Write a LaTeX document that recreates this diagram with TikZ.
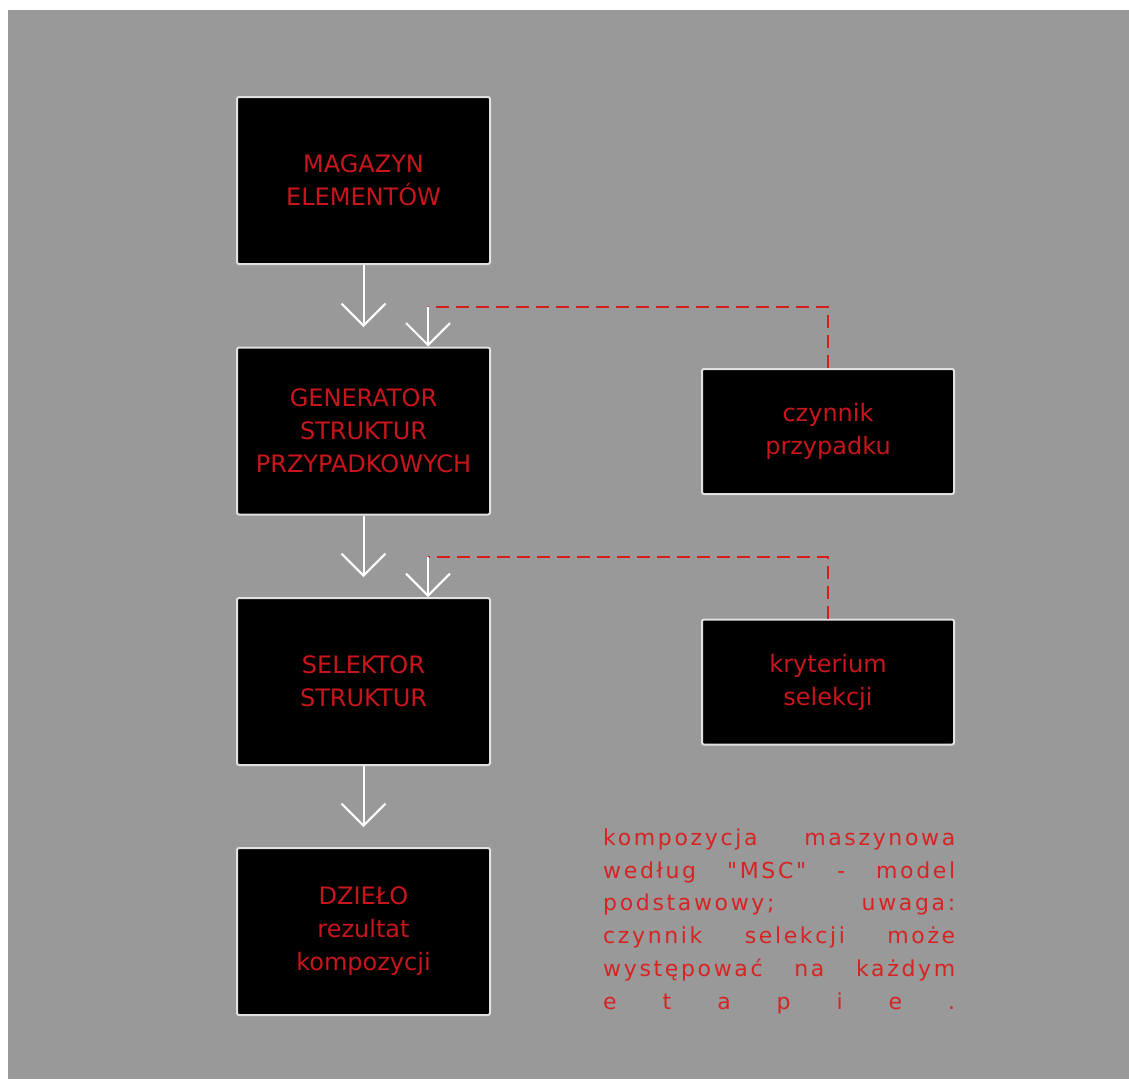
\documentclass[tikz,border=0pt]{standalone}
\usepackage{fontspec}
\setmainfont{DejaVu Sans}
\newfontfamily\parafont[LetterSpace=12]{DejaVu Sans}
\usetikzlibrary{arrows.meta}
\definecolor{bg}{RGB}{153,153,153}
\definecolor{txtred}{RGB}{200,22,28}
\definecolor{parared}{RGB}{214,36,36}
\definecolor{dashred}{RGB}{212,30,30}
\definecolor{edge}{RGB}{225,225,225}
\begin{document}
\begin{tikzpicture}[x=1pt,y=-1pt,
  box/.style={draw=edge, line width=2pt, fill=black, rounded corners=2pt,
    minimum width=253pt, text=txtred, align=center,
    font=\fontsize{24}{33}\selectfont, inner sep=0pt},
  mainbox/.style={box, minimum height=167pt},
  sidebox/.style={box, minimum width=252pt, minimum height=125pt},
  flow/.style={draw=white, line width=2pt, -{Straight Barb[length=22pt,width=44pt]}},
  feed/.style={draw=dashred, line width=2pt, dash pattern=on 13pt off 7pt},
  para/.style={anchor=base west, inner sep=0pt, text=parared,
    font=\parafont\fontsize{22}{33}\selectfont}]
\useasboundingbox (0,0) rectangle (1129,1079);
\fill[white] (0,0) rectangle (1129,1079);
\fill[bg] (8,10) rectangle (1129,1079);

\node[mainbox] (mag) at (363.5,180.5) {MAGAZYN\\ELEMENTÓW};
\node[mainbox] (gen) at (363.5,431) {GENERATOR\\STRUKTUR\\PRZYPADKOWYCH};
\node[mainbox] (sel) at (363.5,681.5) {SELEKTOR\\STRUKTUR};
\node[mainbox] (dz) at (363.5,931.5) {DZIEŁO\\rezultat\\kompozycji};
\node[sidebox] (czy) at (828,431.5) {czynnik\\przypadku};
\node[sidebox] (kry) at (828,682) {kryterium\\selekcji};

\coordinate (t1) at (363.5,327);
\coordinate (t2) at (363.5,577);
\coordinate (t3) at (363.5,827);
\coordinate (j1) at (428,307);
\coordinate (j2) at (428,557);

\draw[flow] (mag.south) -- (t1);
\draw[flow] (gen.south) -- (t2);
\draw[flow] (sel.south) -- (t3);

\draw[feed] (czy.north) |- (j1);
\draw[flow] (j1) -- (j1 |- gen.north);
\draw[feed] (kry.north) |- (j2);
\draw[flow] (j2) -- (j2 |- sel.north);

\node[para] (p1) at (603,845) {\makebox[352pt][s]{kompozycja maszynowa}};
\node[para] (p2) at (603,878) {\makebox[352pt][s]{według "MSC" - model}};
\node[para] (p3) at (603,910) {\makebox[352pt][s]{podstawowy; uwaga:}};
\node[para] (p4) at (603,943) {\makebox[352pt][s]{czynnik selekcji może}};
\node[para] (p5) at (603,976) {\makebox[352pt][s]{występować na każdym}};
\node[para] (p6) at (603,1009) {\makebox[352pt][s]{e t a p i e .}};
\end{tikzpicture}
\end{document}
